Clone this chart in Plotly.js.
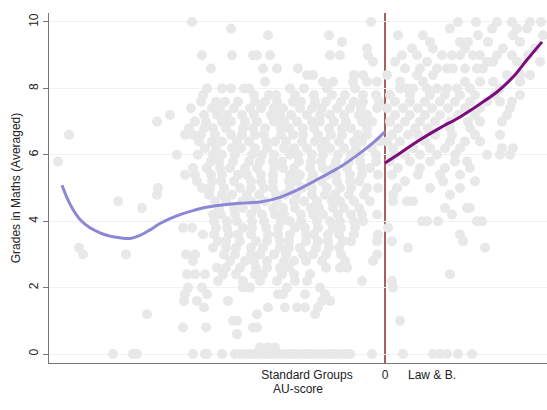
<!DOCTYPE html>
<html>
<head>
<meta charset="utf-8">
<script src="https://cdn.plot.ly/plotly-3.0.1.min.js"></script>
<style>
html,body{margin:0;padding:0;background:#fff;}
#chart{width:547px;height:410px;}
</style>
</head>
<body>
<div id="chart"></div>
<script>
// Grade levels (rows of the scatter)
const gradeRows = [10.0,9.8,9.6,9.4,9.2,9.0,8.8,8.6,8.4,8.2,8.0,7.8,7.6,7.4,7.2,7.0,6.8,6.6,6.4,6.2,
  6.0,5.8,5.6,5.4,5.2,5.0,4.8,4.6,4.4,4.2,4.0,3.8,3.6,3.4,3.2,3.0,2.8,2.6,2.4,2.2,
  2.0,1.8,1.6,1.4,1.2,1.0,0.8,0.6,0.4,0.2,0.0];
// AU-scores of the students at each grade level
const auByRow = [
  [-19.3,-1.4,7.3,9.1,11.2,12.7,14.5,15.6],
  [-15.4,6.5,10.7,13.2,14.2],
  [-11.7,-5.6,1.3,3.8,9.3,12.8,15.8],
  [-4.3,4.5,7.5,8.3,10.3,13.5],
  [-1.8,2.7,4.8,8.0,11.8,15.0],
  [-18.3,-15.3,-13.2,-12.8,-11.5,-5.5,-4.5,-1.7,1.7,3.2,5.7,6.7,7.5,8.8,9.5,11.2,12.7,14.3],
  [-1.2,1.0,4.2,10.2,10.8,13.2,15.5],
  [-17.4,-12.2,-10.8,-8.7,2.0,3.5,5.2,6.2,6.8,8.0,9.2,9.8],
  [-7.8,-7.2,-3.1,-2.2,0.2,3.2,4.8,12.2,13.5,14.5],
  [-12.0,-6.2,-5.2,-3.2,-1.8,-0.8,1.5,3.8,8.0,9.5,10.8,13.5],
  [-17.8,-16.3,-15.4,-14.1,-13.6,-9.5,-8.1,-5.8,-3.0,1.5,2.2,2.8,4.2,5.2,6.2,7.2,8.5,11.5],
  [-18.2,-13.1,-11.6,-10.9,-9.0,-7.1,-5.3,-4.0,-2.2,-0.9,0.5,2.5,4.5,6.0,7.5,9.0,11.0,13.5],
  [-18.4,-16.9,-16.0,-14.7,-13.0,-12.0,-10.8,-9.2,-8.4,-7.0,-5.9,-4.4,-3.1,-2.2,-0.6,1.0,2.5,4.0,5.5,7.0,8.5,10.2,11.5,12.7],
  [-19.4,-17.3,-16.5,-15.1,-13.5,-12.4,-11.1,-10.2,-8.5,-7.3,-6.3,-4.8,-3.5,-2.4,-0.8,0.2,1.8,3.3,4.7,6.3,8.0,9.5,12.5],
  [-21.5,-18.1,-16.8,-15.8,-14.3,-13.1,-11.4,-10.5,-9.4,-7.8,-6.5,-5.5,-4.1,-2.6,-1.8,1.0,2.5,4.0,5.5,7.3,9.0,12.2],
  [-22.8,-19.0,-17.9,-16.3,-15.4,-14.0,-12.8,-11.1,-10.1,-8.8,-7.3,-6.5,-5.1,-3.9,-2.3,-1.3,0.5,2.0,3.5,5.0,6.5,8.3,9.5,11.7],
  [-19.6,-18.1,-17.2,-15.9,-14.2,-13.2,-12.0,-10.4,-9.6,-8.2,-7.1,-5.6,-4.3,-3.4,-1.8,1.3,3.0,4.3,6.5,8.5],
  [-31.6,-20.0,-19.2,-18.4,-17.0,-15.4,-14.3,-13.0,-12.1,-10.4,-9.2,-8.2,-6.7,-5.4,-4.3,-2.7,-1.8,0.7,2.3,3.3,5.0,6.7,9.0,11.5],
  [-18.6,-17.3,-16.3,-14.8,-13.6,-11.9,-11.0,-9.9,-8.3,-7.0,-6.0,-4.6,-3.1,-2.3,-0.5,0.2,1.5,4.0,6.5,8.0,9.5],
  [-18.0,-16.9,-15.3,-14.4,-13.0,-11.8,-10.1,-9.1,-7.8,-6.3,-5.5,-4.1,-2.9,-1.3,0.8,2.8,4.5,6.0,7.5,11.7,12.8],
  [-20.8,-18.7,-17.2,-16.3,-15.0,-13.3,-12.3,-11.1,-9.5,-8.7,-7.3,-6.2,-4.7,-3.4,-2.5,-0.9,1.0,2.0,3.5,5.2,7.0,10.2,11.5,12.5],
  [-32.7,-17.4,-16.6,-15.2,-13.6,-12.5,-11.2,-10.3,-8.6,-7.4,-6.4,-4.9,-3.6,-2.5,-0.9,0.5,2.5,4.5,7.0,8.2],
  [-19.2,-17.8,-16.5,-15.5,-14.0,-12.8,-11.1,-10.2,-9.1,-7.5,-6.2,-5.2,-3.8,-2.3,-1.5,1.3,3.5,6.0,8.5],
  [-20.0,-19.0,-17.4,-16.3,-14.7,-13.8,-12.4,-11.2,-9.5,-8.5,-7.2,-5.7,-4.9,-3.5,-2.3,-0.7,0.7,3.3,5.5,7.5],
  [-18.8,-17.3,-16.4,-15.1,-13.4,-12.4,-11.2,-9.6,-8.8,-7.4,-6.3,-4.8,-3.5,-2.6,2.0,5.8,9.0],
  [-22.7,-18.3,-17.5,-16.1,-14.5,-13.4,-12.1,-11.2,-9.5,-8.3,-7.3,-5.8,-4.5,-3.4,-1.8,-0.7,1.2,4.5,7.5],
  [-22.8,-17.6,-16.3,-15.3,-13.8,-12.6,-10.9,-10.0,-8.9,-7.3,-6.0,-5.0,-3.6,-2.1,0.8,6.5],
  [-26.7,-17.0,-15.9,-14.3,-13.4,-12.0,-10.8,-9.1,-8.1,-6.8,-5.3,-4.5,-3.1,-1.5,0.8,2.2,2.8],
  [-24.3,-16.6,-15.1,-14.2,-12.9,-11.2,-10.2,-9.0,-7.4,-6.6,-5.2,-4.1,-2.6,6.0,8.2,8.5],
  [-17.2,-16.4,-15.0,-13.4,-12.3,-11.0,-10.1,-8.4,-7.2,-6.2,-4.7,-3.4,-2.3,-0.8,6.7],
  [-17.1,-15.8,-14.8,-13.3,-12.1,-10.4,-9.5,-8.4,-6.8,-5.5,-4.5,-3.1,-2.2,3.7,4.2,5.3,9.2,9.7],
  [-20.2,-19.3,-16.9,-15.8,-14.2,-13.3,-11.9,-10.7,-9.0,-8.0,-6.7,-5.2,-4.4,-3.0,0.3],
  [-18.2,-17.1,-15.6,-14.7,-13.4,-11.7,-10.7,-9.5,-7.9,-7.1,-5.7,-4.6,-3.1,-0.7,7.5],
  [-16.7,-15.9,-14.5,-12.9,-11.8,-10.5,-9.6,-7.9,-6.7,-5.7,-4.2,-3.4,-0.8,0.7,7.8],
  [-30.6,-17.2,-15.9,-14.9,-13.4,-12.2,-10.5,-9.6,-8.5,-6.9,-5.6,-4.6,2.3,10.0],
  [-30.2,-25.9,-19.9,-19.0,-16.1,-15.0,-13.4,-12.5,-11.1,-9.9,-8.2,-7.2,-5.9,-4.4,-0.8],
  [-19.2,-15.5,-14.0,-13.1,-11.8,-10.1,-9.1,-7.9,-6.3,-4.0,-1.2],
  [-16.8,-15.9,-14.5,-12.9,-11.8,-10.5,-9.6,-5.9,-4.5,-3.8],
  [-19.8,-19.0,-18.0,-16.2,-14.9,-13.0,-12.2,-10.3,-9.1,-7.5,6.5],
  [-16.7,-14.2,-12.5,-10.8,-9.0,-7.8,-2.3,0.7],
  [-19.7,-18.3,-14.2,-13.5,-9.8,-6.5,0.8],
  [-20.0,-17.8,-10.7,-10.2,-8.0,-6.0],
  [-20.1,-18.8,-15.7,-6.3,-5.5],
  [-18.1,-11.7,-10.0,-8.8,-8.0,-6.7],
  [-23.8,-12.8,-7.0],
  [-15.2,-14.8,1.5],
  [-20.2,-17.9,-13.2,-12.8],
  [-14.8],
  [],
  [-12.5,-11.7,-11.0],
  [-27.2,-25.2,-24.8,-19.2,-18.0,-17.8,-16.3,-15.0,-14.5,-14.0,-13.5,-13.0,-12.5,-12.0,-11.5,-11.0,-10.5,-10.0,-9.5,-9.0,-8.5,-8.0,-7.5,-7.0,-6.5,-6.0,-5.5,-5.0,-4.5,-4.0,-3.5,-1.3,1.8,4.8,5.5,6.2,7.3,8.7]
];
// Fitted curve, standard groups (AU-score < 0)
const fitLeftAU    = [-32.3,-31.8,-31.2,-30.5,-29.5,-28.5,-27.5,-26.5,-25.5,-24.5,-23.5,-22.5,-21.5,-20.5,-19.2,-18.0,-16.5,-14.5,-12.5,-10.5,-8.5,-6.5,-4.5,-2.5,-1.2,0];
const fitLeftGrade = [5.08,4.70,4.35,4.05,3.80,3.65,3.55,3.50,3.48,3.57,3.74,3.93,4.08,4.20,4.32,4.41,4.48,4.54,4.58,4.72,4.98,5.30,5.63,6.05,6.36,6.69];
// Fitted curve, Law & B. (AU-score > 0)
const fitRightAU    = [0,1.5,3.5,5.5,7.5,9.5,11.2,12.8,14.2,15.7];
const fitRightGrade = [5.75,6.05,6.45,6.81,7.14,7.53,7.89,8.34,8.86,9.40];
// Axis labels
const yTicks = [0,2,4,6,8,10];
const xTickVals = [-7.8,0,4.7];
const xTickText = ['Standard Groups','0','Law & B.'];
const cutoff = 0;

const px = [], py = [];
gradeRows.forEach((g,i)=>{ auByRow[i].forEach(a=>{ px.push(a); py.push(g); }); });

const font = 'Liberation Sans, Arial, Helvetica, sans-serif';
const data = [
  {type:'scatter', mode:'markers', x:px, y:py, hoverinfo:'skip',
   marker:{color:'#e8e8e8', size:10, line:{width:0}}},
  {type:'scatter', mode:'lines', x:fitLeftAU, y:fitLeftGrade,
   line:{color:'#8c87d5', width:3, shape:'spline', smoothing:0.8}},
  {type:'scatter', mode:'lines', x:fitRightAU, y:fitRightGrade,
   line:{color:'#7b0c7d', width:3, shape:'spline', smoothing:0.8}}
];
const layout = {
  width:547, height:410,
  margin:{l:49, r:0, t:13, b:47},
  paper_bgcolor:'#fff', plot_bgcolor:'#fff',
  showlegend:false,
  font:{family:font, size:12, color:'#222'},
  xaxis:{range:[-33.6,16.2], showgrid:false, zeroline:false, showline:true,
    linecolor:'#777', linewidth:1.2, ticks:'', tickvals:xTickVals, ticktext:xTickText,
    tickfont:{size:12, color:'#222'},
    title:{text:'AU-score', font:{size:12, color:'#222'}, standoff:3}},
  yaxis:{range:[-0.27,10.27], tickvals:yTicks, ticks:'outside', ticklen:5, tickcolor:'#777',
    tickangle:-90, showgrid:true, gridcolor:'#eef2f4', gridwidth:1, zeroline:false,
    showline:true, linecolor:'#777', linewidth:1.2, tickfont:{size:12, color:'#222'},
    title:{text:'Grades in Maths (Averaged)', font:{size:12, color:'#222'}, standoff:3}},
  shapes:[{type:'line', xref:'x', yref:'paper', x0:cutoff, x1:cutoff, y0:0, y1:1,
    layer:'below', line:{color:'#8e2a2a', width:1.5}}]
};
Plotly.newPlot('chart', data, layout, {displayModeBar:false, staticPlot:true});
</script>
</body>
</html>
